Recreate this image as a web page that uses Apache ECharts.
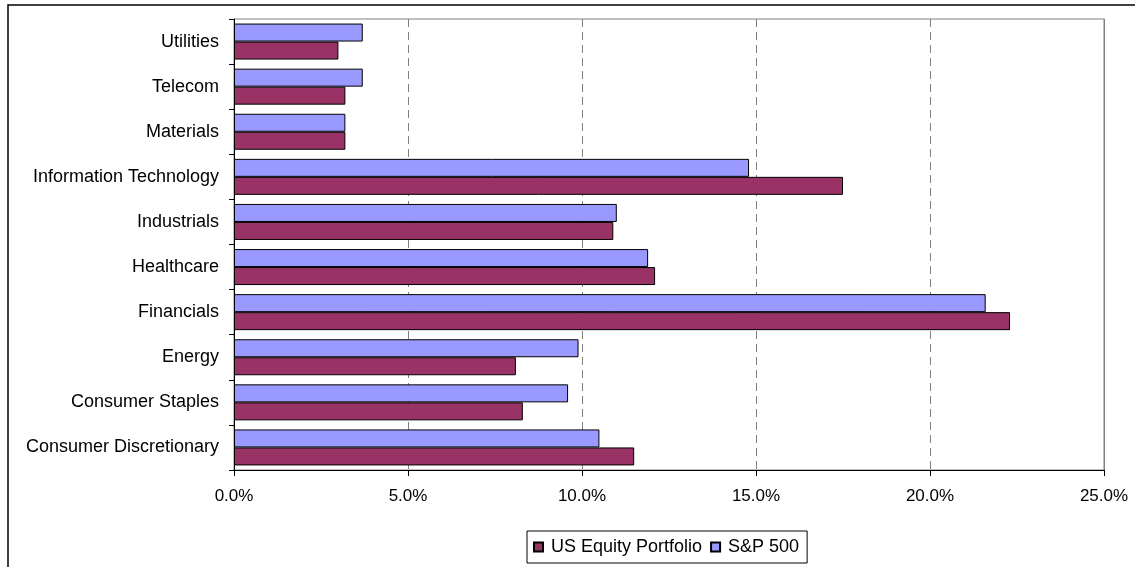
<!DOCTYPE html>
<html>
<head>
<meta charset="utf-8">
<script src="https://cdn.jsdelivr.net/npm/echarts@6/dist/echarts.min.js"></script>
<style>
  html, body { margin: 0; padding: 0; background: #fff; }
  #chart { width: 1135px; height: 567px; }
</style>
</head>
<body>
<div id="chart"></div>
<script>
// sectors, bottom to top as on the axis
const sectors = [
  'Consumer Discretionary', 'Consumer Staples', 'Energy', 'Financials', 'Healthcare',
  'Industrials', 'Information Technology', 'Materials', 'Telecom', 'Utilities'
]
// weights in %
const portfolioWeights = [11.5, 8.3, 8.1, 22.3, 12.1, 10.9, 17.5, 3.2, 3.2, 3.0]
const sp500Weights = [10.5, 9.6, 9.9, 21.6, 11.9, 11.0, 14.8, 3.2, 3.7, 3.7]
const seriesNames = ['US Equity Portfolio', 'S&P 500']

const FONT = '"Liberation Sans", Arial, sans-serif'
const chart = echarts.init(document.getElementById('chart'), null, { renderer: 'canvas' })

chart.setOption({
  animation: false,
  backgroundColor: '#fff',
  textStyle: { fontFamily: FONT },
  graphic: [{
    type: 'rect',
    shape: { x: 8, y: 5, width: 1140, height: 600 },
    style: { fill: 'none', stroke: '#000', lineWidth: 1.5 },
    silent: true,
    z: -1
  }],
  grid: {
    left: 234, top: 19, right: 31, bottom: 97,
    show: true, borderColor: '#808080', borderWidth: 1, backgroundColor: 'transparent'
  },
  legend: {
    data: seriesNames,
    left: 527, top: 531,
    icon: 'rect',
    itemWidth: 9, itemHeight: 9, itemGap: 8,
    padding: [7, 8, 7, 6],
    borderColor: '#000', borderWidth: 1,
    textStyle: { fontFamily: FONT, fontSize: 18, color: '#000', padding: [0, 0, 0, 3] }
  },
  xAxis: {
    type: 'value',
    min: 0, max: 25, interval: 5,
    axisLine: { show: true, lineStyle: { color: '#000', width: 1 } },
    axisTick: { show: true, length: 6, lineStyle: { color: '#000' } },
    axisLabel: {
      color: '#000', fontSize: 17, fontFamily: FONT, margin: 18,
      formatter: v => v.toFixed(1) + '%'
    },
    splitLine: { show: true, lineStyle: { color: '#808080', type: [8, 5], width: 1 } }
  },
  yAxis: [
    {
      type: 'category',
      data: sectors,
      axisLine: { show: true, lineStyle: { color: '#000', width: 1 } },
      axisTick: { show: true, length: 5, lineStyle: { color: '#000' } },
      axisLabel: { color: '#000', fontSize: 18, fontFamily: FONT, margin: 15 },
      splitLine: { show: false }
    },
    {
      // solid plot border on the right
      type: 'category',
      data: sectors,
      position: 'right',
      axisLine: { show: true, lineStyle: { color: '#808080', width: 1 } },
      axisTick: { show: false },
      axisLabel: { show: false },
      splitLine: { show: false }
    }
  ],
  series: [
    {
      name: 'S&P 500',
      type: 'bar',
      data: sp500Weights,
      barWidth: 18,
      barGap: '0%',
      itemStyle: { color: '#9999FF', borderColor: '#000', borderWidth: 1 }
    },
    {
      name: 'US Equity Portfolio',
      type: 'bar',
      data: portfolioWeights,
      barWidth: 18,
      barGap: '0%',
      itemStyle: { color: '#993366', borderColor: '#000', borderWidth: 1 }
    }
  ]
})
</script>
</body>
</html>
